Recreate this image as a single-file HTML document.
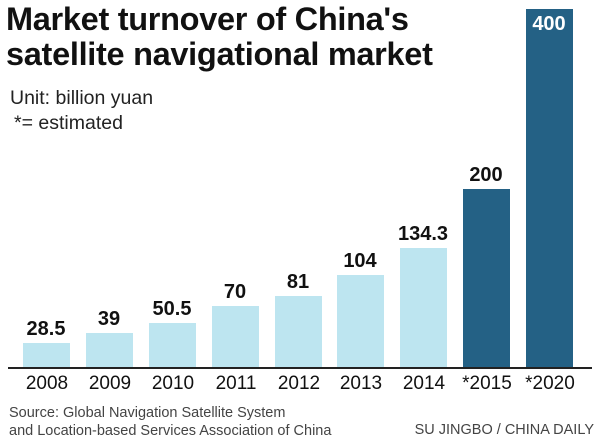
<!DOCTYPE html>
<html><head><style>
body{margin:0;width:600px;height:447px;background:#fff;overflow:hidden;font-family:"Liberation Sans",sans-serif;position:relative}
.t{position:absolute;white-space:nowrap}
.b{position:absolute;width:47px;bottom:79px}
.v{position:absolute;font-weight:bold;font-size:20px;text-align:center;width:80px;color:#111}
.y{position:absolute;top:373px;font-size:19px;width:70px;text-align:center;color:#111}
</style></head><body>
<div class="t" style="left:6px;top:2px;font-size:32.5px;font-weight:bold;line-height:35px;color:#111;letter-spacing:-0.3px">Market turnover of China's<br>satellite navigational market</div>
<div class="t" style="left:10px;top:87px;font-size:19.5px;color:#222">Unit: billion yuan</div>
<div class="t" style="left:14px;top:112px;font-size:19.5px;color:#222">*= estimated</div>

<div class="b" style="left:23px;height:25px;background:#bde5f0"></div>
<div class="b" style="left:86px;height:35px;background:#bde5f0"></div>
<div class="b" style="left:149px;height:45px;background:#bde5f0"></div>
<div class="b" style="left:212px;height:62px;background:#bde5f0"></div>
<div class="b" style="left:275px;height:72px;background:#bde5f0"></div>
<div class="b" style="left:337px;height:93px;background:#bde5f0"></div>
<div class="b" style="left:400px;height:120px;background:#bde5f0"></div>
<div class="b" style="left:463px;height:179px;background:#246185"></div>
<div class="b" style="left:526px;height:359px;background:#246185"></div>

<div class="v" style="left:6px;top:318px">28.5</div>
<div class="v" style="left:69px;top:308px">39</div>
<div class="v" style="left:132px;top:298px">50.5</div>
<div class="v" style="left:195px;top:281px">70</div>
<div class="v" style="left:258px;top:271px">81</div>
<div class="v" style="left:320px;top:250px">104</div>
<div class="v" style="left:383px;top:223px">134.3</div>
<div class="v" style="left:446px;top:164px">200</div>
<div class="v" style="left:509px;top:13px;color:#fff">400</div>

<div style="position:absolute;left:8px;top:367px;width:584px;height:2px;background:#222"></div>

<div class="y" style="left:12px">2008</div>
<div class="y" style="left:75px">2009</div>
<div class="y" style="left:138px">2010</div>
<div class="y" style="left:201px">2011</div>
<div class="y" style="left:264px">2012</div>
<div class="y" style="left:326px">2013</div>
<div class="y" style="left:389px">2014</div>
<div class="y" style="left:452px">*2015</div>
<div class="y" style="left:515px">*2020</div>

<div class="t" style="left:9px;top:404px;font-size:14.5px;line-height:18px;color:#444">Source: Global Navigation Satellite System<br>and Location-based Services Association of China</div>
<div class="t" style="right:6px;top:422px;font-size:14.5px;color:#444">SU JINGBO / CHINA DAILY</div>
</body></html>
